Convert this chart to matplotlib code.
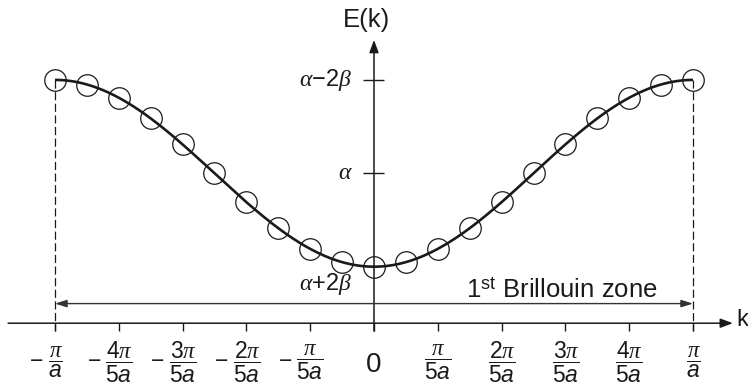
import numpy as np
import matplotlib
matplotlib.use("Agg")
import matplotlib.pyplot as plt

plt.rcParams['font.family'] = ['Liberation Sans', 'DejaVu Sans']
plt.rcParams['mathtext.fontset'] = 'custom'
plt.rcParams['mathtext.rm'] = 'Liberation Sans'
plt.rcParams['mathtext.it'] = 'Liberation Serif:italic'
plt.rcParams['mathtext.sf'] = 'Liberation Sans:italic'
plt.rcParams['mathtext.bf'] = 'Liberation Sans:bold'

# ---- data (k in units of pi/a, E in units of |beta| relative to alpha) ----
k_points = [-1.0, -0.9, -0.8, -0.7, -0.6, -0.5, -0.4, -0.3, -0.2, -0.1, 0.0,
            0.1, 0.2, 0.3, 0.4, 0.5, 0.6, 0.7, 0.8, 0.9, 1.0]
E_points = [2.0, 1.90, 1.62, 1.18, 0.62, 0.0, -0.62, -1.18, -1.62, -1.90, -2.0,
            -1.90, -1.62, -1.18, -0.62, 0.0, 0.62, 1.18, 1.62, 1.90, 2.0]
alpha = 0.0
beta = -1.0   # dispersion E(k) = alpha + 2 beta cos(ka)

x_ticks = [-1.0, -0.8, -0.6, -0.4, -0.2, 0.0, 0.2, 0.4, 0.6, 0.8, 1.0]
x_labels = [r'$\dfrac{\pi}{\mathsf{a}}$',
            r'$\dfrac{4\pi}{5\mathsf{a}}$',
            r'$\dfrac{3\pi}{5\mathsf{a}}$',
            r'$\dfrac{2\pi}{5\mathsf{a}}$',
            r'$\dfrac{\pi}{5\mathsf{a}}$',
            '0',
            r'$\dfrac{\pi}{5\mathsf{a}}$',
            r'$\dfrac{2\pi}{5\mathsf{a}}$',
            r'$\dfrac{3\pi}{5\mathsf{a}}$',
            r'$\dfrac{4\pi}{5\mathsf{a}}$',
            r'$\dfrac{\pi}{\mathsf{a}}$']
y_ticks = [2.0, 0.0]
y_labels = [r'$\alpha\mathrm{-}2\beta$', r'$\alpha$', r'$\alpha\mathrm{+}2\beta$']
y_label_pos = [2.0, 0.0, -2.0]

zone_label = r'1$^{\mathrm{st}}$ Brillouin zone'

# ---- figure ----
fig = plt.figure(figsize=(7.48, 3.84), dpi=100)
ax = fig.add_axes([0, 0, 1, 1])
ax.set_xlim(-1.1724, 1.1724)
ax.set_ylim(-4.512, 3.711)
ax.axis('off')

ink = '#1a1a1a'
x_axis_y = -3.21
y_axis_bottom = -3.38
label_y = -4.04

# axes with arrows
ax.annotate('', xy=(1.125, x_axis_y), xytext=(-1.147, x_axis_y),
            arrowprops=dict(arrowstyle='-|>,head_length=0.75,head_width=0.28',
                            color=ink, lw=1.1, shrinkA=0, shrinkB=0))
ax.annotate('', xy=(0.0, 2.855), xytext=(0.0, y_axis_bottom),
            arrowprops=dict(arrowstyle='-|>,head_length=0.75,head_width=0.28',
                            color=ink, lw=1.1, shrinkA=0, shrinkB=0))
ax.text(1.135, x_axis_y + 0.07, 'k', fontsize=17, ha='left', va='center', color=ink)
ax.text(-0.025, 3.28, 'E(k)', fontsize=18.5, ha='center', va='center', color=ink)

# x ticks
ax.vlines(x_ticks, y_axis_bottom, x_axis_y, color=ink, lw=1.0)
tick_texts = []
for xt, lab in zip(x_ticks, x_labels):
    fs = 20 if lab == '0' else 16.5
    ly = label_y - 0.06 if lab == '0' else label_y
    t = ax.text(xt, ly, lab, fontsize=fs, ha='center', va='center', color=ink)
    tick_texts.append((xt, t))

# y ticks
ax.hlines(y_ticks, -0.036, 0.031, color=ink, lw=1.0)
offsets = [0.0, 0.0, -0.36]
for yp, lab, off in zip(y_label_pos, y_labels, offsets):
    ax.text(-0.068, yp + off, lab, fontsize=17, ha='right', va='center', color=ink)

# dashed zone boundaries
for xb in (x_ticks[0], x_ticks[-1]):
    ax.plot([xb, xb], [E_points[0], y_axis_bottom], color=ink, lw=0.9,
            linestyle=(0, (6.5, 2.8)))

# Brillouin zone double arrow
ax.annotate('', xy=(x_ticks[-1], -2.79), xytext=(x_ticks[0], -2.79),
            arrowprops=dict(arrowstyle='<|-|>,head_length=0.7,head_width=0.22',
                            color='#333333', lw=1.0, shrinkA=0, shrinkB=0))
ax.text(0.59, -2.66, zone_label, fontsize=18.5, ha='center', va='baseline', color=ink)

# dispersion curve
k_curve = np.linspace(-1.0, 1.0, 401)
E_curve = alpha + 2 * beta * np.cos(np.pi * k_curve)
ax.plot(k_curve, E_curve, color=ink, lw=1.9, solid_capstyle='butt')

# sampled states
ax.plot(k_points, E_points, linestyle='none', marker='o', markersize=15.5,
        markerfacecolor='none', markeredgecolor=ink, markeredgewidth=0.9)

# leading minus signs for negative k labels, placed left of each fraction
fig.canvas.draw()
renderer = fig.canvas.get_renderer()
inv = ax.transData.inverted()
for xt, t in tick_texts:
    if xt < 0:
        bb = t.get_window_extent(renderer)
        gap = 4.0
        xd, yd = inv.transform((bb.x0 - gap, (bb.y0 + bb.y1) / 2))
        ax.text(xd, yd, '\u2212', fontsize=16.5, ha='right', va='center', color=ink)

fig.savefig('out.png', dpi=100)
